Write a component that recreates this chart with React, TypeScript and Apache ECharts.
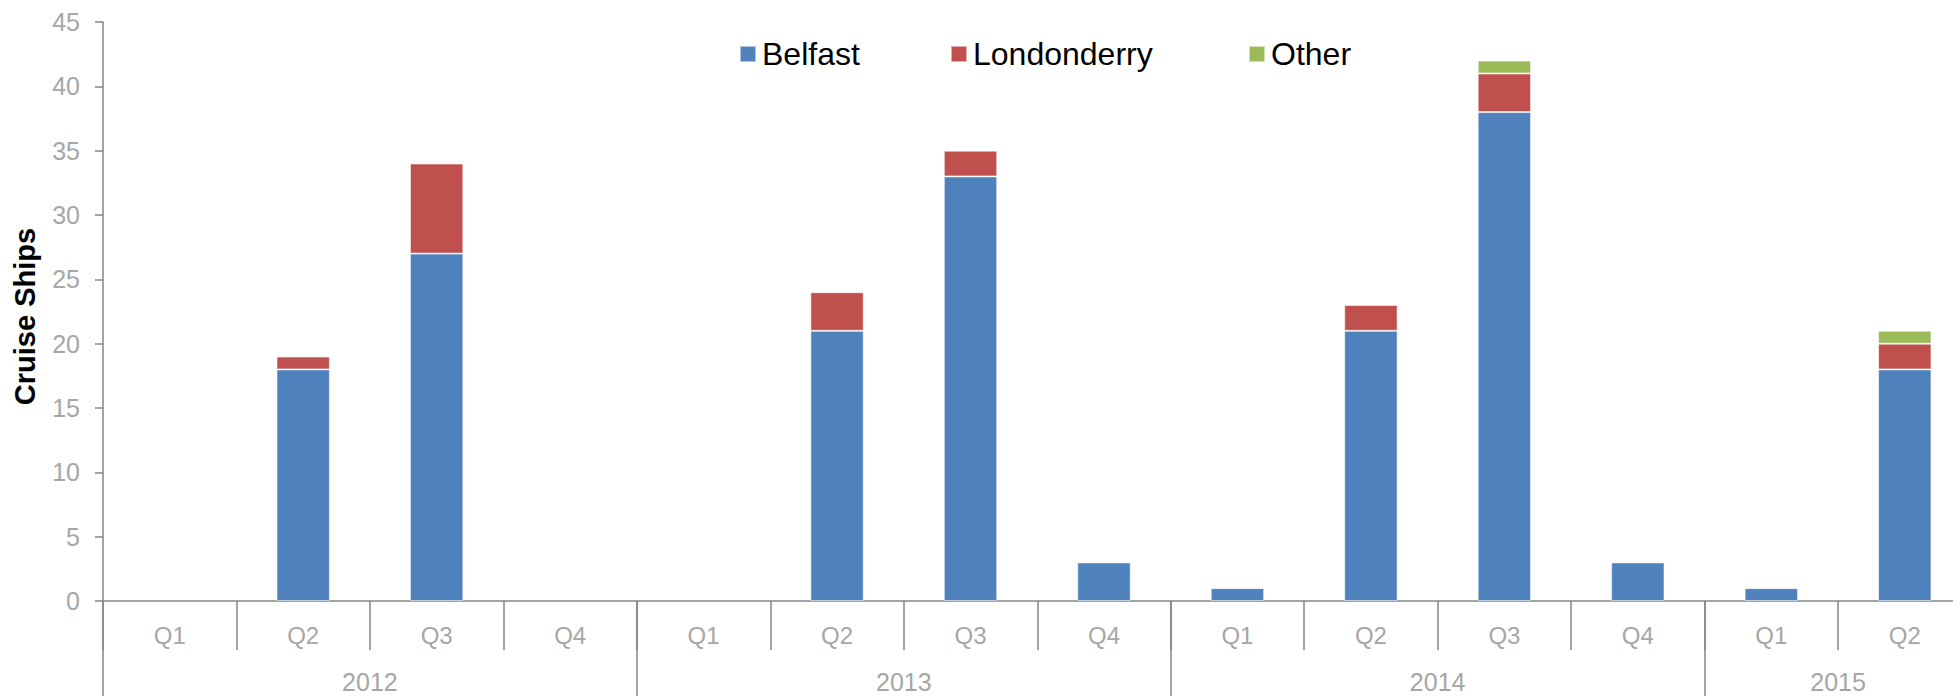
import React, { useEffect, useRef } from "react";
import * as echarts from "echarts";

const quarters = ["Q1", "Q2", "Q3", "Q4", "Q1", "Q2", "Q3", "Q4", "Q1", "Q2", "Q3", "Q4", "Q1", "Q2"];
const years = ["2012", "2013", "2014", "2015"];
const quartersPerYear = [4, 4, 4, 2];
const belfast = [0, 18, 27, 0, 0, 21, 33, 3, 1, 21, 38, 3, 1, 18];
const londonderry = [0, 1, 7, 0, 0, 3, 2, 0, 0, 2, 3, 0, 0, 2];
const other = [0, 0, 0, 0, 0, 0, 0, 0, 0, 0, 1, 0, 0, 1];
const yTicks = [0, 5, 10, 15, 20, 25, 30, 35, 40, 45];

const FONT = "'Liberation Sans', Arial, sans-serif";
const AXIS = "#868686";
const LABEL = "#A6A6A6";

export default function App() {
  const ref = useRef<HTMLDivElement>(null);
  useEffect(() => {
    if (!ref.current) return;
    const chart = echarts.init(ref.current, null, { renderer: "svg" });

    const yearStarts: number[] = [];
    const yearCenters: number[] = [];
    let acc = 0;
    quartersPerYear.forEach((n) => {
      yearStarts.push(acc);
      yearCenters.push(acc + n / 2);
      acc += n;
    });
    const centerMap: Record<string, string> = {};
    yearCenters.forEach((c, i) => (centerMap[String(c)] = years[i]));

    const nz = (a: number[]) => a.map((v) => (v === 0 ? null : v));
    const barStyle = (color: string) => ({
      color,
      borderColor: "rgba(255,255,255,0.55)",
      borderWidth: 1,
    });

    const mkLegend = (name: string, left: number) => ({
      show: true,
      data: [name],
      left,
      top: 38,
      padding: 0,
      itemWidth: 16,
      itemHeight: 16,
      itemGap: 0,
      icon: "rect",
      textStyle: { fontFamily: FONT, fontSize: 32, color: "#000", padding: [0, 0, 0, 1] },
    });

    chart.setOption({
      animation: false,
      backgroundColor: "#fff",
      legend: [mkLegend("Belfast", 739), mkLegend("Londonderry", 950), mkLegend("Other", 1248)],
      grid: { left: 103, top: 22, width: 1868.5, height: 579, containLabel: false, outerBoundsMode: "none" },
      xAxis: [
        {
          type: "category",
          data: quarters,
          position: "bottom",
          axisLine: { lineStyle: { color: AXIS, width: 1.5 } },
          axisTick: { show: true, interval: 0, length: 49, lineStyle: { color: AXIS, width: 1.5 } },
          axisLabel: { interval: 0, margin: 22, fontFamily: FONT, fontSize: 24, color: LABEL },
        },
        {
          type: "value",
          min: 0,
          max: quarters.length,
          position: "bottom",
          axisLine: { show: false },
          splitLine: { show: false },
          axisTick: {
            show: true,
            customValues: yearStarts,
            length: 95,
            lineStyle: { color: AXIS, width: 1.5 },
          },
          axisLabel: {
            customValues: yearCenters,
            formatter: (v: number) => centerMap[String(v)] || "",
            margin: 68,
            fontFamily: FONT,
            fontSize: 25,
            color: LABEL,
          },
        },
      ],
      yAxis: {
        type: "value",
        min: yTicks[0],
        max: yTicks[yTicks.length - 1],
        interval: 5,
        name: "Cruise Ships",
        nameLocation: "middle",
        nameGap: 64,
        nameTextStyle: { fontFamily: FONT, fontSize: 29, fontWeight: "bold", color: "#000", padding: [0, 10, 0, 0] },
        axisLine: { show: true, lineStyle: { color: AXIS, width: 1.5 } },
        axisTick: { show: true, length: 8, lineStyle: { color: AXIS, width: 1.5 } },
        axisLabel: { margin: 23, fontFamily: FONT, fontSize: 25, color: LABEL },
        splitLine: { show: false },
      },
      series: [
        { name: "Belfast", type: "bar", stack: "s", data: nz(belfast), barWidth: "40%", itemStyle: barStyle("#4F81BD") },
        { name: "Londonderry", type: "bar", stack: "s", data: nz(londonderry), barWidth: "40%", itemStyle: barStyle("#C0504D") },
        { name: "Other", type: "bar", stack: "s", data: nz(other), barWidth: "40%", itemStyle: barStyle("#9BBB59") },
      ],
    });
    return () => chart.dispose();
  }, []);

  return (
    <div style={{ position: "fixed", left: 0, top: 0, width: 1953, height: 696, overflow: "hidden", background: "#fff" }}>
      <div ref={ref} style={{ width: 1990, height: 696 }} />
    </div>
  );
}
